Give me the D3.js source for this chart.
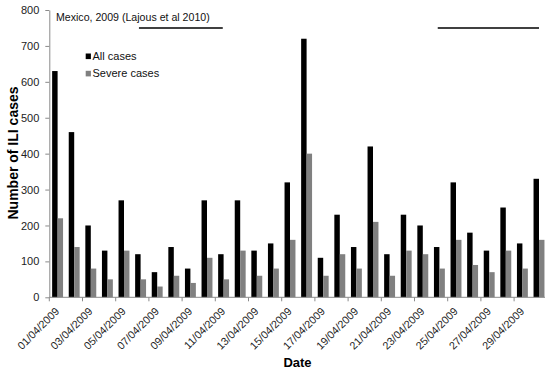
<!DOCTYPE html>
<html>
<head>
<meta charset="utf-8">
<script src="https://cdn.jsdelivr.net/npm/d3@7"></script>
<style>
  html, body { margin: 0; padding: 0; background: #fff; }
  svg { display: block; font-family: Arial, "Liberation Sans", sans-serif; }
</style>
</head>
<body>
<svg id="chart" width="545" height="376"></svg>
<script>
// ---- data ----
const dates = [
  "01/04/2009","02/04/2009","03/04/2009","04/04/2009","05/04/2009","06/04/2009",
  "07/04/2009","08/04/2009","09/04/2009","10/04/2009","11/04/2009","12/04/2009",
  "13/04/2009","14/04/2009","15/04/2009","16/04/2009","17/04/2009","18/04/2009",
  "19/04/2009","20/04/2009","21/04/2009","22/04/2009","23/04/2009","24/04/2009",
  "25/04/2009","26/04/2009","27/04/2009","28/04/2009","29/04/2009","30/04/2009"
];
const allCases = [630,460,200,130,270,120,70,140,80,270,120,270,130,150,320,720,110,230,140,420,120,230,200,140,320,180,130,250,150,330];
const severeCases = [220,140,80,50,130,50,30,60,40,110,50,130,60,80,160,400,60,120,80,210,60,130,120,80,160,90,70,130,80,160];
const yTicks = [0,100,200,300,400,500,600,700,800];
const seriesNames = ["All cases","Severe cases"];
const seriesColors = ["#000000","#808080"];
// annotation periods (in category-index units) at value level
const periodStart = [5.4, 23.4];
const periodEnd = [10.45, 29.5];
const periodLevel = 750;
const annotationText = "Mexico, 2009 (Lajous et al 2010)";

// ---- layout ----
const svg = d3.select("#chart");
const x0 = 49.3, step = 16.6;
const x = d3.scaleBand().domain(dates).range([x0, x0 + step * dates.length]).padding(0);
const xs = d3.scaleBand().domain(["all","severe"]).range([0, x.bandwidth()]).paddingInner(0).paddingOuter(0.52);
const xi = d3.scaleLinear().domain([0, dates.length]).range([x0, x0 + step * dates.length]);
const y = d3.scaleLinear().domain([0, 800]).range([297.3, 10]);

const axisColor = "#8a8a8a";

// bars
const g = svg.append("g");
g.selectAll("rect.all").data(dates).enter().append("rect")
  .attr("class","all")
  .attr("x", d => x(d) + xs("all"))
  .attr("width", xs.bandwidth())
  .attr("y", (d,i) => y(allCases[i]))
  .attr("height", (d,i) => y(0) - y(allCases[i]))
  .attr("fill", seriesColors[0]);
g.selectAll("rect.sev").data(dates).enter().append("rect")
  .attr("class","sev")
  .attr("x", d => x(d) + xs("severe"))
  .attr("width", xs.bandwidth())
  .attr("y", (d,i) => y(severeCases[i]))
  .attr("height", (d,i) => y(0) - y(severeCases[i]))
  .attr("fill", seriesColors[1]);

// y axis
const yAxis = d3.axisLeft(y).tickValues(yTicks).tickSize(4).tickPadding(6).tickSizeOuter(0);
const ya = svg.append("g").attr("transform", `translate(${x0},0)`).call(yAxis);
ya.select(".domain").attr("stroke", axisColor);
ya.selectAll(".tick line").attr("stroke", axisColor);
ya.selectAll(".tick text").attr("font-size", 11).attr("fill", "#222").attr("font-family", "Arial, 'Liberation Sans', sans-serif");

// x axis line
svg.append("line")
  .attr("x1", x0).attr("x2", x0 + step * dates.length)
  .attr("y1", y(0)).attr("y2", y(0))
  .attr("stroke", axisColor);
// x ticks at every other category boundary
const labelDates = dates.filter((d,i) => i % 2 === 0);
svg.append("g").selectAll("line").data(labelDates).enter().append("line")
  .attr("x1", d => x(d)).attr("x2", d => x(d))
  .attr("y1", y(0)).attr("y2", y(0) + 4)
  .attr("stroke", axisColor);
svg.append("g").selectAll("text").data(labelDates).enter().append("text")
  .attr("transform", d => `translate(${x(d) + x.bandwidth()/2 + 2.5},312) rotate(-45)`)
  .attr("text-anchor", "end")
  .attr("font-size", 10.8)
  .attr("fill", "#222")
  .text(d => d);

// axis titles
svg.append("text")
  .attr("x", 297.5).attr("y", 367)
  .attr("text-anchor", "middle")
  .attr("font-size", 13).attr("font-weight", "bold")
  .text("Date");
svg.append("text")
  .attr("transform", "translate(17.5,153) rotate(-90)")
  .attr("text-anchor", "middle")
  .attr("font-size", 14).attr("font-weight", "bold")
  .text("Number of ILI cases");

// annotation
svg.append("text")
  .attr("x", 56).attr("y", 20.5)
  .attr("font-size", 10.6).attr("fill", "#111")
  .text(annotationText);
svg.append("g").selectAll("line").data(periodStart).enter().append("line")
  .attr("x1", d => xi(d))
  .attr("x2", (d,i) => xi(periodEnd[i]))
  .attr("y1", y(periodLevel)).attr("y2", y(periodLevel))
  .attr("stroke", "#000").attr("stroke-width", 1.6);

// legend
const lg = svg.append("g");
seriesNames.forEach((n, i) => {
  lg.append("rect").attr("x", 85.7).attr("y", 53.5 + i * 17.3).attr("width", 5.2).attr("height", 5.6).attr("fill", seriesColors[i]);
  lg.append("text").attr("x", 92.5).attr("y", 60 + i * 17.1).attr("font-size", 11).attr("fill", "#111").text(n);
});
</script>
</body>
</html>
